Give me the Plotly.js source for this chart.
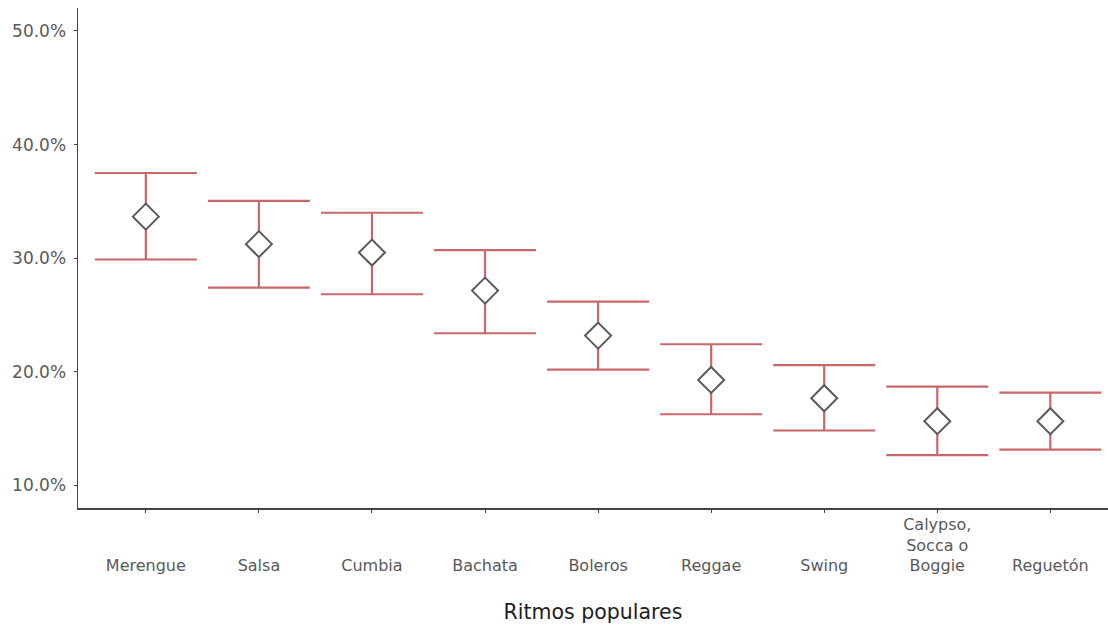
<!DOCTYPE html>
<html>
<head>
<meta charset="utf-8">
<script src="https://cdn.plot.ly/plotly-3.0.1.min.js"></script>
<style>html,body{margin:0;padding:0;background:#fff;}#chart{width:1108px;height:631px;}</style>
</head>
<body>
<div id="chart"></div>
<script>
const categories = ["Merengue", "Salsa", "Cumbia", "Bachata", "Boleros", "Reggae", "Swing", "Calypso, Socca o Boggie", "Reguetón"];
const tickLabels = ["<br><br>Merengue", "<br><br>Salsa", "<br><br>Cumbia", "<br><br>Bachata", "<br><br>Boleros", "<br><br>Reggae", "<br><br>Swing", "Calypso,<br>Socca o<br>Boggie", "<br><br>Reguetón"];
const estimate = [0.3366, 0.3124, 0.3050, 0.2715, 0.2319, 0.1929, 0.1768, 0.1566, 0.1566];
const upper    = [0.3750, 0.3505, 0.3400, 0.3071, 0.2618, 0.2243, 0.2059, 0.1870, 0.1817];
const lower    = [0.2989, 0.2741, 0.2683, 0.2340, 0.2020, 0.1627, 0.1484, 0.1267, 0.1316];

const xIdx = categories.map((c, i) => i);
const plus = upper.map((u, i) => u - estimate[i]);
const minus = lower.map((l, i) => estimate[i] - l);

const trace = {
  type: "scatter",
  mode: "markers",
  x: xIdx,
  y: estimate,
  text: categories,
  error_y: {
    type: "data",
    symmetric: false,
    array: plus,
    arrayminus: minus,
    color: "#c8686a",
    thickness: 2.2,
    width: 51
  },
  marker: {
    symbol: "diamond",
    size: 20,
    color: "#ffffff",
    line: { color: "#595959", width: 2 }
  },
  hoverinfo: "text+y"
};

const layout = {
  width: 1108,
  height: 631,
  margin: { l: 78, r: 0, t: 8, b: 123 },
  paper_bgcolor: "#ffffff",
  plot_bgcolor: "#ffffff",
  showlegend: false,
  font: { family: "DejaVu Sans, Arial, sans-serif", color: "#555555", size: 17 },
  xaxis: {
    range: [-0.6, 8.51],
    tickmode: "array",
    tickvals: xIdx,
    ticktext: tickLabels,
    showgrid: false,
    zeroline: false,
    showline: true,
    linecolor: "#444444",
    linewidth: 1.5,
    ticks: "outside",
    ticklen: 3,
    tickcolor: "#444444",
    ticklabelstandoff: -2,
    tickfont: { family: "DejaVu Sans, Arial, sans-serif", size: 16, color: "#595959" },
    title: { text: "Ritmos populares", font: { family: "DejaVu Sans, Arial, sans-serif", size: 20.5, color: "#1e1e1e" }, standoff: 30 }
  },
  yaxis: {
    range: [0.0802, 0.5202],
    tickmode: "array",
    tickvals: [0.1, 0.2, 0.3, 0.4, 0.5],
    tickformat: ".1%",
    showgrid: false,
    zeroline: false,
    showline: true,
    linecolor: "#444444",
    linewidth: 1.5,
    ticks: "outside",
    ticklen: 3,
    tickcolor: "#444444",
    ticklabelstandoff: 4,
    tickfont: { family: "DejaVu Sans, Arial, sans-serif", size: 17, color: "#595959" }
  }
};

Plotly.newPlot("chart", [trace], layout, { displayModeBar: false, staticPlot: true });
</script>
</body>
</html>
